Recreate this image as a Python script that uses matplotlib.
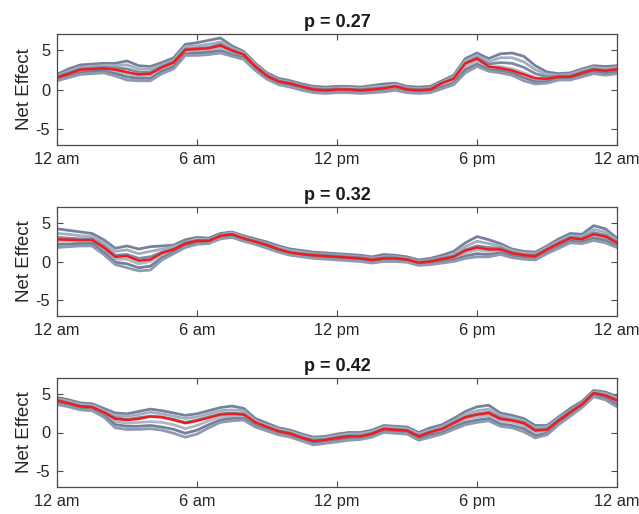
import numpy as np
import matplotlib
matplotlib.use("Agg")
import matplotlib.pyplot as plt

plt.rcParams['font.family'] = ['Liberation Sans', 'DejaVu Sans']

hours = np.arange(0, 24.5, 0.5)
tick_pos = [0, 6, 12, 18, 24]
tick_labels = ["12 am", "6 am", "12 pm", "6 pm", "12 am"]
titles = ["p = 0.27", "p = 0.32", "p = 0.42"]

red1 = [1.5, 2.0, 2.5, 2.6, 2.65, 2.5, 2.2, 1.9, 2.0, 2.8, 3.4, 5.0, 5.1, 5.2, 5.55, 4.9, 4.4,
        2.9, 1.7, 1.0, 0.75, 0.35, 0.0, -0.1, 0.0, 0.0, -0.1, 0.0, 0.15, 0.4, 0.0, -0.1, 0.0,
        0.8, 1.35, 3.3, 3.9, 2.9, 2.7, 2.4, 1.9, 1.4, 1.35, 1.6, 1.6, 2.1, 2.5, 2.35, 2.55]
gray1 = [
    [1.9, 2.6, 3.1, 3.2, 3.3, 3.3, 3.6, 3.0, 2.9, 3.4, 4.0, 5.7, 5.9, 6.2, 6.5, 5.5, 4.8, 3.3, 2.1, 1.4, 1.1, 0.7, 0.4, 0.3, 0.4, 0.4, 0.3, 0.5, 0.7, 0.8, 0.4, 0.3, 0.4, 1.1, 1.8, 3.9, 4.6, 3.9, 4.5, 4.6, 4.2, 3.0, 2.2, 2.0, 2.1, 2.6, 3.0, 2.9, 3.0],
    [1.7, 2.3, 2.8, 2.9, 3.0, 3.0, 3.1, 2.6, 2.6, 3.1, 3.7, 5.4, 5.5, 5.7, 6.0, 5.2, 4.6, 3.1, 1.9, 1.2, 0.9, 0.5, 0.2, 0.1, 0.2, 0.2, 0.1, 0.3, 0.4, 0.6, 0.2, 0.1, 0.2, 0.9, 1.6, 3.6, 4.3, 3.5, 4.0, 4.0, 3.5, 2.5, 1.9, 1.8, 1.9, 2.4, 2.8, 2.6, 2.8],
    [1.6, 2.1, 2.6, 2.7, 2.8, 2.7, 2.6, 2.2, 2.2, 2.9, 3.5, 5.1, 5.2, 5.3, 5.7, 5.0, 4.4, 2.9, 1.8, 1.1, 0.8, 0.4, 0.1, 0.0, 0.1, 0.0, 0.0, 0.1, 0.2, 0.4, 0.1, 0.0, 0.1, 0.8, 1.4, 3.3, 4.0, 3.2, 3.4, 3.3, 2.8, 2.0, 1.6, 1.7, 1.7, 2.2, 2.6, 2.4, 2.6],
    [1.4, 1.9, 2.3, 2.5, 2.5, 2.3, 2.0, 1.7, 1.8, 2.6, 3.2, 4.8, 4.9, 5.0, 5.3, 4.7, 4.2, 2.7, 1.6, 0.9, 0.6, 0.2, -0.1, -0.2, -0.1, -0.1, -0.2, -0.1, 0.0, 0.2, -0.1, -0.2, -0.1, 0.6, 1.1, 2.9, 3.6, 2.8, 2.9, 2.6, 2.1, 1.5, 1.3, 1.5, 1.5, 2.0, 2.4, 2.2, 2.4],
    [1.3, 1.7, 2.1, 2.3, 2.3, 2.0, 1.6, 1.4, 1.4, 2.3, 2.9, 4.5, 4.6, 4.7, 4.9, 4.4, 4.0, 2.5, 1.4, 0.7, 0.5, 0.0, -0.3, -0.4, -0.3, -0.3, -0.4, -0.3, -0.2, 0.0, -0.3, -0.4, -0.2, 0.3, 0.8, 2.5, 3.2, 2.5, 2.4, 2.1, 1.5, 1.0, 1.0, 1.3, 1.3, 1.8, 2.2, 2.0, 2.2],
    [1.1, 1.5, 1.9, 2.0, 2.1, 1.7, 1.2, 1.1, 1.1, 2.0, 2.6, 4.3, 4.3, 4.4, 4.6, 4.2, 3.8, 2.4, 1.3, 0.6, 0.3, -0.1, -0.4, -0.5, -0.4, -0.4, -0.5, -0.4, -0.3, -0.1, -0.4, -0.5, -0.4, 0.1, 0.6, 2.1, 2.9, 2.3, 2.1, 1.8, 1.1, 0.7, 0.8, 1.2, 1.2, 1.6, 2.0, 1.8, 2.0],
]

red2 = [2.85, 2.8, 2.75, 2.75, 1.8, 0.6, 0.7, 0.1, 0.25, 1.1, 1.55, 2.3, 2.65, 2.65, 3.3, 3.5, 2.95,
        2.55, 2.1, 1.55, 1.15, 0.95, 0.8, 0.7, 0.6, 0.5, 0.4, 0.2, 0.4, 0.4, 0.25, -0.15, 0.0,
        0.3, 0.6, 1.4, 1.8, 1.55, 1.55, 1.05, 0.8, 0.7, 1.55, 2.3, 3.0, 2.85, 3.5, 3.2, 2.4]
gray2 = [
    [4.2, 4.0, 3.8, 3.6, 2.8, 1.7, 2.0, 1.6, 1.9, 2.0, 2.1, 2.8, 3.1, 3.0, 3.6, 3.8, 3.3, 2.9, 2.5, 2.0, 1.6, 1.4, 1.2, 1.1, 1.0, 0.9, 0.8, 0.6, 0.9, 0.8, 0.6, 0.2, 0.4, 0.8, 1.3, 2.4, 3.2, 2.8, 2.3, 1.6, 1.3, 1.2, 2.0, 2.9, 3.6, 3.5, 4.6, 4.2, 3.0],
    [3.6, 3.5, 3.3, 3.2, 2.4, 1.3, 1.5, 1.0, 1.3, 1.6, 1.9, 2.5, 2.9, 2.8, 3.4, 3.7, 3.1, 2.7, 2.3, 1.8, 1.4, 1.2, 1.0, 0.9, 0.8, 0.7, 0.6, 0.4, 0.6, 0.6, 0.4, 0.0, 0.2, 0.5, 0.9, 1.9, 2.6, 2.3, 2.0, 1.4, 1.1, 1.0, 1.8, 2.6, 3.3, 3.2, 4.1, 3.8, 2.7],
    [3.1, 3.0, 2.9, 2.9, 2.0, 0.8, 0.9, 0.4, 0.6, 1.2, 1.6, 2.4, 2.7, 2.7, 3.3, 3.5, 3.0, 2.6, 2.2, 1.6, 1.2, 1.0, 0.9, 0.8, 0.7, 0.6, 0.5, 0.3, 0.5, 0.5, 0.3, -0.1, 0.1, 0.4, 0.7, 1.5, 2.0, 1.8, 1.7, 1.2, 0.9, 0.8, 1.6, 2.4, 3.1, 3.0, 3.7, 3.4, 2.5],
    [2.6, 2.6, 2.5, 2.6, 1.6, 0.3, 0.3, -0.3, 0.0, 0.9, 1.4, 2.2, 2.5, 2.6, 3.2, 3.4, 2.9, 2.5, 2.0, 1.5, 1.1, 0.9, 0.7, 0.6, 0.5, 0.4, 0.3, 0.1, 0.3, 0.3, 0.2, -0.2, -0.1, 0.2, 0.4, 1.1, 1.5, 1.3, 1.4, 0.9, 0.7, 0.6, 1.4, 2.2, 2.9, 2.7, 3.3, 3.0, 2.3],
    [2.2, 2.2, 2.3, 2.3, 1.2, -0.1, -0.3, -0.8, -0.6, 0.5, 1.2, 2.0, 2.4, 2.4, 3.0, 3.3, 2.7, 2.3, 1.9, 1.3, 0.9, 0.7, 0.6, 0.5, 0.4, 0.3, 0.2, 0.0, 0.1, 0.1, 0.0, -0.4, -0.2, 0.0, 0.2, 0.7, 1.0, 0.9, 1.1, 0.7, 0.5, 0.4, 1.2, 1.9, 2.6, 2.5, 3.0, 2.7, 2.0],
    [1.8, 1.9, 2.0, 2.0, 0.9, -0.4, -0.8, -1.2, -1.1, 0.2, 1.0, 1.8, 2.2, 2.3, 2.9, 3.1, 2.6, 2.2, 1.7, 1.2, 0.8, 0.6, 0.4, 0.3, 0.2, 0.1, 0.0, -0.2, 0.0, 0.0, -0.1, -0.5, -0.4, -0.2, 0.0, 0.4, 0.6, 0.6, 0.9, 0.5, 0.3, 0.2, 1.0, 1.7, 2.4, 2.3, 2.7, 2.4, 1.8],
]

red3 = [4.1, 3.75, 3.35, 3.25, 2.6, 1.75, 1.6, 1.75, 2.05, 1.95, 1.6, 1.2, 1.5, 1.9, 2.3, 2.4, 2.3,
        1.3, 0.7, 0.15, -0.15, -0.7, -1.1, -0.95, -0.7, -0.5, -0.5, -0.15, 0.45, 0.35, 0.25, -0.5,
        0.05, 0.45, 1.2, 1.95, 2.3, 2.5, 1.75, 1.55, 1.2, 0.25, 0.35, 1.55, 2.6, 3.6, 5.05, 4.75, 4.1]
gray3 = [
    [4.5, 4.2, 3.8, 3.7, 3.1, 2.5, 2.4, 2.7, 3.0, 2.8, 2.5, 2.2, 2.4, 2.8, 3.2, 3.4, 3.1, 1.8, 1.2, 0.6, 0.3, -0.2, -0.6, -0.5, -0.2, 0.0, 0.0, 0.3, 0.9, 0.8, 0.7, 0.0, 0.6, 1.0, 1.8, 2.7, 3.3, 3.5, 2.5, 2.2, 1.8, 0.9, 0.9, 2.0, 3.1, 4.0, 5.4, 5.2, 4.6],
    [4.3, 4.0, 3.6, 3.5, 2.8, 2.2, 2.1, 2.3, 2.6, 2.4, 2.1, 1.8, 2.0, 2.4, 2.8, 2.9, 2.8, 1.5, 0.9, 0.4, 0.1, -0.4, -0.8, -0.7, -0.4, -0.2, -0.2, 0.1, 0.7, 0.6, 0.5, -0.2, 0.3, 0.7, 1.5, 2.3, 2.8, 3.0, 2.2, 1.9, 1.5, 0.6, 0.7, 1.8, 2.8, 3.8, 5.2, 5.0, 4.4],
    [4.2, 3.8, 3.4, 3.3, 2.6, 1.9, 1.7, 1.9, 2.1, 2.0, 1.7, 1.3, 1.6, 2.0, 2.4, 2.5, 2.4, 1.3, 0.7, 0.2, -0.1, -0.6, -1.0, -0.9, -0.6, -0.4, -0.4, -0.1, 0.5, 0.4, 0.3, -0.4, 0.1, 0.5, 1.3, 2.0, 2.4, 2.6, 1.9, 1.6, 1.3, 0.4, 0.5, 1.6, 2.7, 3.7, 5.1, 4.8, 4.2],
    [4.0, 3.6, 3.2, 3.1, 2.4, 1.4, 1.2, 1.3, 1.4, 1.3, 1.0, 0.5, 0.9, 1.5, 2.0, 2.1, 2.1, 1.1, 0.5, 0.0, -0.3, -0.8, -1.2, -1.1, -0.8, -0.6, -0.6, -0.2, 0.3, 0.3, 0.2, -0.6, -0.1, 0.3, 1.0, 1.7, 2.0, 2.2, 1.5, 1.3, 0.9, 0.0, 0.2, 1.4, 2.5, 3.5, 4.9, 4.6, 3.9],
    [3.8, 3.4, 3.0, 2.9, 2.2, 1.0, 0.8, 0.8, 0.9, 0.7, 0.4, -0.1, 0.3, 1.0, 1.6, 1.8, 1.8, 0.9, 0.3, -0.2, -0.5, -1.0, -1.4, -1.3, -1.0, -0.8, -0.8, -0.4, 0.2, 0.1, 0.0, -0.8, -0.3, 0.0, 0.7, 1.3, 1.6, 1.8, 1.1, 0.9, 0.5, -0.4, -0.1, 1.2, 2.3, 3.3, 4.7, 4.4, 3.6],
    [3.6, 3.3, 2.9, 2.8, 2.0, 0.6, 0.4, 0.4, 0.5, 0.3, -0.1, -0.6, -0.2, 0.6, 1.3, 1.5, 1.6, 0.7, 0.2, -0.3, -0.6, -1.1, -1.6, -1.4, -1.2, -1.0, -0.9, -0.6, 0.0, -0.1, -0.2, -1.0, -0.6, -0.2, 0.4, 1.0, 1.3, 1.5, 0.8, 0.6, 0.1, -0.7, -0.3, 1.0, 2.1, 3.2, 4.6, 4.2, 3.3],
]

reds = [red1, red2, red3]
grays = [gray1, gray2, gray3]

fig = plt.figure(figsize=(6.39, 5.14), dpi=100)
positions = [
    [57/639, 1 - 145/514, 560/639, 111/514],
    [57/639, 1 - 316/514, 560/639, 109/514],
    [57/639, 1 - 487/514, 560/639, 109/514],
]
gray_cols = ['#74829a', '#a3aebf', '#7d8aa1', '#adb7c7', '#738098', '#8e9ab0']
edge = '#4a4a4a'
for i in range(3):
    ax = fig.add_axes(positions[i])
    for j, g in enumerate(grays[i]):
        ax.plot(hours, g, color=gray_cols[j], lw=2.0, solid_joinstyle='round')
    ax.plot(hours, reds[i], color='#ee1c1c', lw=1.8, solid_joinstyle='round')
    ax.set_xlim(0, 24)
    ax.set_ylim(-7, 7)
    ax.set_xticks(tick_pos)
    ax.set_xticklabels(tick_labels)
    ax.set_yticks([-5, 0, 5])
    ax.set_yticklabels(['-5', '0', '5'])
    ax.tick_params(direction='in', length=4, width=0.8, top=True, right=True,
                   labelsize=11.8, colors=edge, labelcolor='#262626', pad=5)
    for s in ax.spines.values():
        s.set_color(edge)
        s.set_linewidth(0.9)
    ax.set_ylabel('Net Effect', fontsize=13.5, color='#262626', labelpad=2)
    ax.set_title(titles[i], fontsize=13, fontweight='bold', color='#1a1a1a', pad=5)

fig.savefig('out.png', dpi=100)
